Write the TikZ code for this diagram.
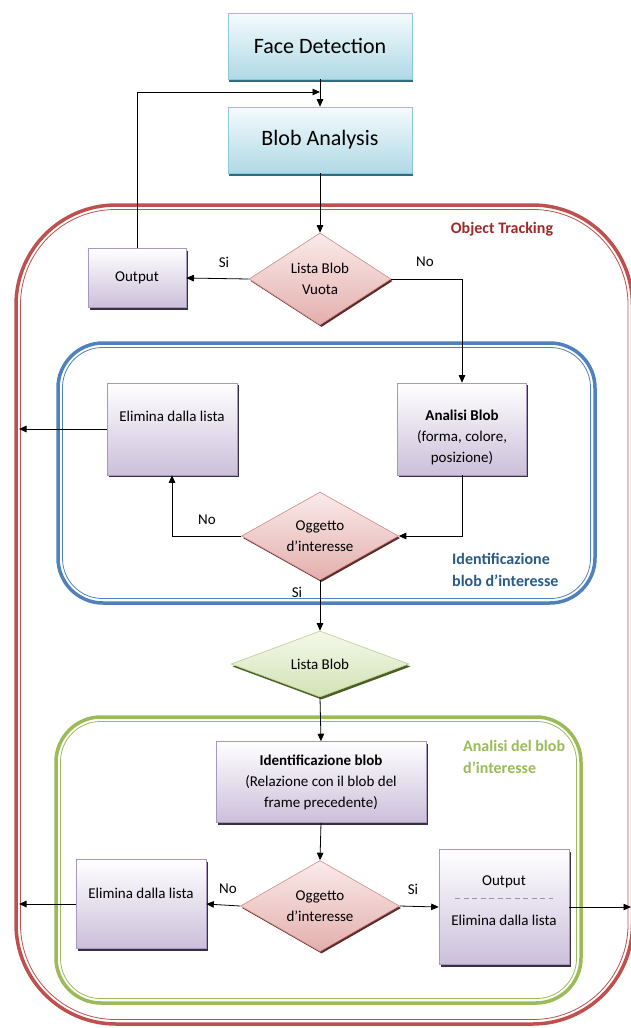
\documentclass[tikz,border=0pt]{standalone}
\usepackage{fontspec}
\setmainfont{Carlito}
\usetikzlibrary{shapes.geometric,arrows.meta,shadows,calc}
\definecolor{cyanline}{HTML}{8CC8D8}
\definecolor{cyantop}{HTML}{F4FBFD}
\definecolor{cyanbot}{HTML}{B0D9E5}
\definecolor{cyanshadow}{HTML}{2E6E80}
\definecolor{purpline}{HTML}{A898BE}
\definecolor{purpbot}{HTML}{CBBFDA}
\definecolor{purpshadow}{HTML}{3A3046}
\definecolor{redline}{HTML}{D08A88}
\definecolor{redtop}{HTML}{FAEBEA}
\definecolor{redbot}{HTML}{E3AFAD}
\definecolor{redshadow}{HTML}{5E2A28}
\definecolor{grline}{HTML}{B9CF8E}
\definecolor{grtop}{HTML}{F4F8EA}
\definecolor{grbot}{HTML}{D3E2B5}
\definecolor{grshadow}{HTML}{4A5E26}
\definecolor{redb}{HTML}{C0504D}
\definecolor{blueb}{HTML}{4F81BD}
\definecolor{greenb}{HTML}{9BBB59}
\definecolor{otlab}{HTML}{A3282A}
\definecolor{idlab}{HTML}{2A5A87}
\definecolor{anlab}{HTML}{9BBB59}
\definecolor{dashc}{HTML}{A08CC0}
\begin{document}
\begin{tikzpicture}[x=1pt,y=-1pt,
  base/.style={font=\fontsize{15}{21}\selectfont, align=center, inner sep=0pt},
  cbox/.style={draw=cyanline, line width=0.6pt, top color=cyantop, bottom color=cyanbot,
    minimum width=184pt, minimum height=66pt, inner sep=0pt,
    general shadow={fill=cyanshadow, shadow xshift=1pt, shadow yshift=-2.5pt},
    font=\fontsize{22}{26}\selectfont},
  pbox/.style={base, draw=purpline, line width=0.6pt, top color=white, bottom color=purpbot,
    general shadow={fill=purpshadow, shadow xshift=1.5pt, shadow yshift=-2pt}},
  rdia/.style={base, diamond, draw=redline, line width=0.6pt, top color=redtop, bottom color=redbot,
    general shadow={fill=redshadow, shadow xshift=1.5pt, shadow yshift=-2pt}},
  gdia/.style={base, diamond, draw=grline, line width=0.6pt, top color=grtop, bottom color=grbot,
    general shadow={fill=grshadow, shadow xshift=1.5pt, shadow yshift=-2.5pt}},
  arr/.style={draw=black, line width=0.8pt, -{Triangle[length=7.5pt,width=6.5pt]}},
  lab/.style={base},
  grplab/.style={font=\bfseries\fontsize{16}{22}\selectfont, align=left, inner sep=0pt}
]
\useasboundingbox (0,0) rectangle (631,1028);
\fill[white] (0,0) rectangle (631,1028);

% containers
\draw[redb, line width=3.5pt, rounded corners=100pt] (16,205) rectangle (632.5,1024);
\draw[redb, line width=0.8pt, rounded corners=95pt] (20.5,209.5) rectangle (628,1019.5);
\draw[blueb, line width=3.5pt, rounded corners=45pt] (58,343) rectangle (595,603);
\draw[blueb, line width=0.8pt, rounded corners=40pt] (62.5,347.5) rectangle (590.5,598.5);
\draw[greenb, line width=3.5pt, rounded corners=45pt] (56,717) rectangle (581,1003);
\draw[greenb, line width=0.8pt, rounded corners=40pt] (60.5,721.5) rectangle (576.5,998.5);

\node[grplab, text=otlab] (otl) at (502,229) {Object Tracking};
\node[grplab, text=idlab, anchor=west] (idl) at (452,570) {Identificazione\\blob d'interesse};
\node[grplab, text=anlab, anchor=west] (anl) at (463,757) {Analisi del blob\\d'interesse};

% nodes
\node[cbox] (fd) at (320,46) {Face Detection};
\node[cbox] (blob) at (320,140) {Blob Analysis};
\node[pbox, minimum width=98pt, minimum height=59pt] (out) at (137,278) {Output};
\node[rdia, aspect=1.54, minimum width=142pt, minimum height=92pt] (d1) at (320,279) {Lista Blob\\Vuota};
\node[pbox, minimum width=129pt, minimum height=92pt] (anal) at (462,429) {};
\node[lab] (analt) at (462,437) {\textbf{Analisi Blob}\\(forma, colore,\\posizione)};
\node[pbox, minimum width=130pt, minimum height=92pt] (elim1) at (172,429) {};
\node[lab] (elim1t) at (172,416) {Elimina dalla lista};
\node[rdia, aspect=1.78, minimum width=157pt, minimum height=88pt] (d2) at (320,536) {Oggetto\\d'interesse};
\node[gdia, aspect=2.7, minimum width=178pt, minimum height=66pt] (lista) at (320,664) {Lista Blob};
\node[pbox, minimum width=210pt, minimum height=81pt] (idb) at (321,782) {\textbf{Identificazione blob}\\(Relazione con il blob del\\frame precedente)};
\node[rdia, aspect=1.75, minimum width=159pt, minimum height=91pt] (d3) at (320,906) {Oggetto\\d'interesse};
\node[pbox, minimum width=130pt, minimum height=89pt] (elim2) at (141,904) {};
\node[lab] (elim2t) at (141,893) {Elimina dalla lista};
\node[pbox, minimum width=130pt, minimum height=115pt] (outb) at (504,907) {};
\node[lab] (outbt1) at (504,882) {Output};
\node[lab] (outbt2) at (504,920) {Elimina dalla lista};
\coordinate (dsl) at (455,898);
\coordinate (dsr) at (553,898);
\draw[dashc, line width=0.8pt, dash pattern=on 5pt off 3.5pt] (dsl) -- (dsr);

% connector ends
\coordinate (loopin) at (320,92);
\coordinate (redL1) at (19,429);
\coordinate (redL2) at (19,904);
\coordinate (redR2) at (631,907);

% connectors
\draw[arr] (fd.south) -- (blob.north);
\draw[arr] (out.north) |- (loopin);
\draw[arr] (blob.south) -- (d1.north);
\draw[arr] (d1.west) -- (out.east);
\draw[arr] (d1.east) -| (anal.north);
\draw[arr] (anal.south) |- (d2.east);
\draw[arr] (d2.west) -| (elim1.south);
\draw[arr] (elim1.west) -- (redL1);
\draw[arr] (d2.south) -- (lista.north);
\draw[arr] (lista.south) -- (idb.north);
\draw[arr] (idb.south) -- (d3.north);
\draw[arr] (d3.west) -- (elim2.east);
\draw[arr] (d3.east) -- (outb.west);
\draw[arr] (elim2.west) -- (redL2);
\draw[arr] (outb.east) -- (redR2);

% branch labels
\node[lab] (si1) at (224,262) {Si};
\node[lab] (no1) at (425,262) {No};
\node[lab] (no2) at (207,520) {No};
\node[lab] (si2) at (297,592) {Si};
\node[lab] (no3) at (228,889) {No};
\node[lab] (si3) at (413,889) {Si};
\end{tikzpicture}
\end{document}
